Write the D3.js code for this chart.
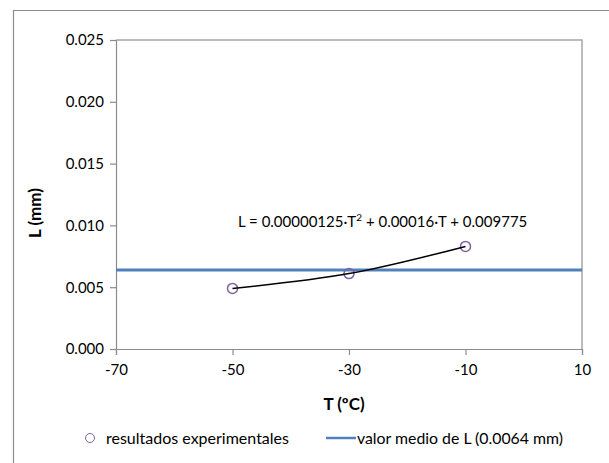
<!DOCTYPE html>
<html>
<head>
<meta charset="utf-8">
<script src="https://cdn.jsdelivr.net/npm/d3@7"></script>
<style>
  body { margin: 0; background: #fff; }
  text { font-family: Lato, "Open Sans", sans-serif; fill: #000; }
</style>
</head>
<body>
<script>
// data
const temps = [-50, -30, -10];
const lengths = [0.0049, 0.0061, 0.0083];
const meanL = 0.0064;
const xTicks = [-70, -50, -30, -10, 10];
const yTicks = [0, 0.005, 0.01, 0.015, 0.02, 0.025];
const legendLabels = ["resultados experimentales", "valor medio de L (0.0064 mm)"];

const width = 609;
const height = 463;
const purple = "#8064a2";
const blue = "#4f81bd";
const grey = "#8c8c8c";

const svg = d3.select("body").append("svg")
  .attr("width", width)
  .attr("height", height);

// outer chart frame (runs off the right and bottom edges)
svg.append("path")
  .attr("d", "M13.5,470V10.5H620")
  .attr("fill", "none")
  .attr("stroke", grey)
  .attr("stroke-width", 1.2);

const x = d3.scaleLinear().domain([-70, 10]).range([116, 582]);
const y = d3.scaleLinear().domain([0, 0.025]).range([349, 40]);

// plot border top/right
svg.append("path")
  .attr("d", `M${x(-70)},${y(0.025)}H${x(10)}V${y(0)}`)
  .attr("fill", "none")
  .attr("stroke", "#a6a6a6")
  .attr("stroke-width", 1.5);

const yAxis = svg.append("g")
  .attr("transform", `translate(${x(-70)},0)`)
  .call(d3.axisLeft(y).tickValues(yTicks).tickFormat(d3.format(".3f")).tickSize(6).tickPadding(6));

const xAxis = svg.append("g")
  .attr("transform", `translate(0,${y(0)})`)
  .call(d3.axisBottom(x).tickValues(xTicks).tickFormat(d3.format("d")).tickSize(6).tickPadding(9));

[xAxis, yAxis].forEach((g) => {
  g.selectAll(".domain, line").attr("stroke", grey).attr("stroke-width", 1.2);
  g.selectAll("text").attr("font-size", 15).attr("font-family", "Lato, sans-serif");
});
xAxis.selectAll("text").text((d) => (d < 0 ? "-" + Math.abs(d) : d));

// axis titles
svg.append("text")
  .attr("x", 344).attr("y", 410)
  .attr("text-anchor", "middle")
  .attr("font-size", 17).attr("font-weight", "bold")
  .text("T (ºC)");

svg.append("text")
  .attr("transform", "translate(41,213) rotate(-90)")
  .attr("text-anchor", "middle")
  .attr("font-size", 17).attr("font-weight", "bold")
  .text("L (mm)");

// mean value line
svg.append("line")
  .attr("x1", x(-70)).attr("x2", x(10))
  .attr("y1", y(meanL)).attr("y2", y(meanL))
  .attr("stroke", blue)
  .attr("stroke-width", 3);

const points = temps.map((t, i) => [t, lengths[i]]);

// experimental points
svg.selectAll("circle.pt").data(points).join("circle")
  .attr("class", "pt")
  .attr("cx", (d) => x(d[0]))
  .attr("cy", (d) => y(d[1]))
  .attr("r", 5)
  .attr("fill", "none")
  .attr("stroke", purple)
  .attr("stroke-width", 1.5);

// fitted curve
const line = d3.line().x((d) => x(d[0])).y((d) => y(d[1])).curve(d3.curveNatural);
svg.append("path")
  .attr("d", line(points))
  .attr("fill", "none")
  .attr("stroke", "#000")
  .attr("stroke-width", 1.5);

// equation label
const eq = svg.append("text")
  .attr("x", 238).attr("y", 227)
  .attr("font-size", 15);
eq.append("tspan").text("L = 0.00000125·T");
eq.append("tspan").attr("font-size", 10).attr("dy", -6).text("2");
eq.append("tspan").attr("dy", 6).text(" + 0.00016·T + 0.009775");

// legend
const leg = svg.append("g");
leg.append("circle")
  .attr("cx", 90).attr("cy", 438).attr("r", 4.5)
  .attr("fill", "none").attr("stroke", purple).attr("stroke-width", 1);
leg.append("text")
  .attr("x", 106).attr("y", 443.5)
  .attr("font-size", 16)
  .text(legendLabels[0]);
leg.append("line")
  .attr("x1", 326).attr("x2", 356)
  .attr("y1", 438).attr("y2", 438)
  .attr("stroke", blue).attr("stroke-width", 2.5);
leg.append("text")
  .attr("x", 357).attr("y", 443.5)
  .attr("font-size", 16)
  .attr("textLength", 206)
  .attr("lengthAdjust", "spacingAndGlyphs")
  .text(legendLabels[1]);
</script>
</body>
</html>
